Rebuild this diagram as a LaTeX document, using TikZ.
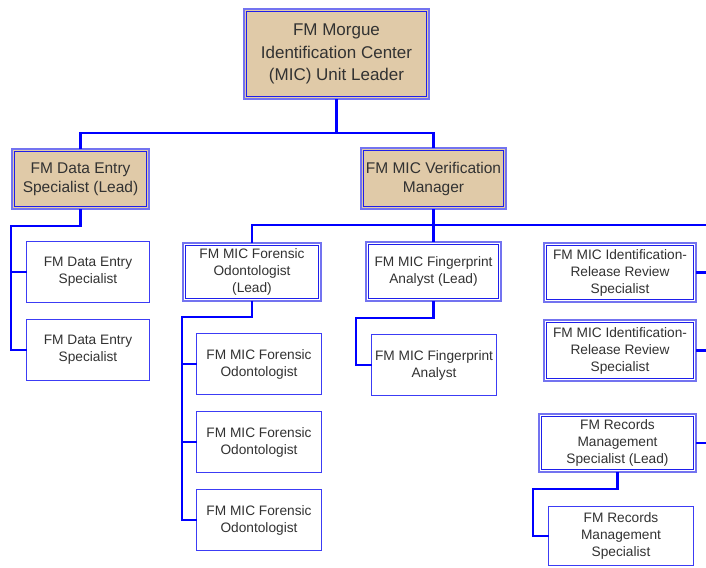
\documentclass[tikz,border=0pt]{standalone}
\usepackage{fontspec}
\setmainfont{Liberation Sans}
\definecolor{tanfill}{RGB}{224,202,168}
\definecolor{outerblue}{RGB}{115,115,240}
\definecolor{innerblue}{RGB}{30,30,235}
\definecolor{plainblue}{RGB}{60,60,245}
\definecolor{linkblue}{RGB}{0,0,255}
\definecolor{txt}{RGB}{50,50,50}
\begin{document}
\begin{tikzpicture}[x=1pt,y=-1pt,
  conn/.style={draw=linkblue, line width=2.2pt},
  box/.style={rectangle, inner sep=0pt, outer sep=0pt, align=center, text=txt},
  leadbox/.style={box, draw=outerblue, line width=2.6pt},
  plainbox/.style={box, draw=plainblue, line width=1.8pt, fill=white},
  innerframe/.style={draw=innerblue, line width=0.9pt},
  fa/.style={font=\fontsize{17}{22.5}\selectfont},
  fb/.style={font=\fontsize{15.5}{19}\selectfont},
  fc/.style={font=\fontsize{13.7}{17}\selectfont},
  wh/.style 2 args={minimum width=#1pt, minimum height=#2pt}
]
\useasboundingbox (0,0) rectangle (706,567);
\clip (0,0) rectangle (706,567);

% unit leader and the two managers
\node[leadbox,fa,fill=tanfill,wh={185}{90}] (top) at (336.5,54) {FM Morgue\\Identification Center\\(MIC) Unit Leader};
\node[leadbox,fb,fill=tanfill,wh={137}{60}] (del) at (80.5,179) {FM Data Entry\\Specialist (Lead)};
\node[leadbox,fb,fill=tanfill,wh={145}{61}] (vm) at (433.5,178.5) {FM MIC Verification\\Manager};

% data entry staff
\node[plainbox,fc,wh={123}{61}] (de1) at (88,272) {FM Data Entry\\Specialist};
\node[plainbox,fc,wh={123}{61}] (de2) at (88,350) {FM Data Entry\\Specialist};

% forensic odontology
\node[leadbox,fc,fill=white,wh={138}{58}] (fol) at (252,272) {FM MIC Forensic\\Odontologist\\(Lead)};
\node[plainbox,fc,wh={125}{61}] (fo1) at (259,364) {FM MIC Forensic\\Odontologist};
\node[plainbox,fc,wh={125}{61}] (fo2) at (259,442) {FM MIC Forensic\\Odontologist};
\node[plainbox,fc,wh={125}{61}] (fo3) at (259,520) {FM MIC Forensic\\Odontologist};

% fingerprints
\node[leadbox,fc,fill=white,wh={135}{59}] (fpl) at (433.5,271.5) {FM MIC Fingerprint\\Analyst (Lead)};
\node[plainbox,fc,wh={125}{61}] (fp1) at (434,365) {FM MIC Fingerprint\\Analyst};

% release review and records
\node[leadbox,fc,fill=white,wh={152}{59}] (idr1) at (620,272.5) {FM MIC Identification-\\Release Review\\Specialist};
\node[leadbox,fc,fill=white,wh={152}{61}] (idr2) at (620,350.5) {FM MIC Identification-\\Release Review\\Specialist};
\node[leadbox,fc,fill=white,wh={157}{58}] (rml) at (617.5,443) {FM Records\\Management\\Specialist (Lead)};
\node[plainbox,fc,wh={145}{59}] (rm1) at (621,536) {FM Records\\Management\\Specialist};

% inner line of the double frames
\foreach \n in {top,del,vm,fol,fpl,idr1,idr2,rml}
  \draw[innerframe] ([shift={(2.6pt,-2.6pt)}]\n.north west) rectangle ([shift={(-2.6pt,2.6pt)}]\n.south east);

% bus coordinates
\coordinate (j0) at (336.5,133);
\coordinate (vbus) at (433.5,225);
\coordinate (rbus) at (712,225);
\coordinate (rbusend) at (712,443);
\coordinate (debus) at (11,226);
\coordinate (fobus) at (182,317);
\coordinate (fpbus) at (356,318);
\coordinate (rmbus) at (533,489);

% connectors
\draw[conn] (top.south) -- (j0);
\draw[conn] (del.north) |- (j0) -| (vm.north);
\draw[conn] (vm.south) -- (vbus) -- (fpl.north);
\draw[conn] (fol.north) |- (rbus) -- (rbusend);
\draw[conn] (idr1.east) -- (idr1.east -| rbus);
\draw[conn] (idr2.east) -- (idr2.east -| rbus);
\draw[conn] (rml.east) -- (rml.east -| rbus);

\draw[conn] (del.south) |- (debus) |- (de2.west);
\draw[conn] (debus |- de1.west) -- (de1.west);

\draw[conn] (fol.south) |- (fobus) |- (fo3.west);
\draw[conn] (fobus |- fo1.west) -- (fo1.west);
\draw[conn] (fobus |- fo2.west) -- (fo2.west);

\draw[conn] (fpl.south) |- (fpbus) |- (fp1.west);
\draw[conn] (rml.south) |- (rmbus) |- (rm1.west);
\end{tikzpicture}
\end{document}
